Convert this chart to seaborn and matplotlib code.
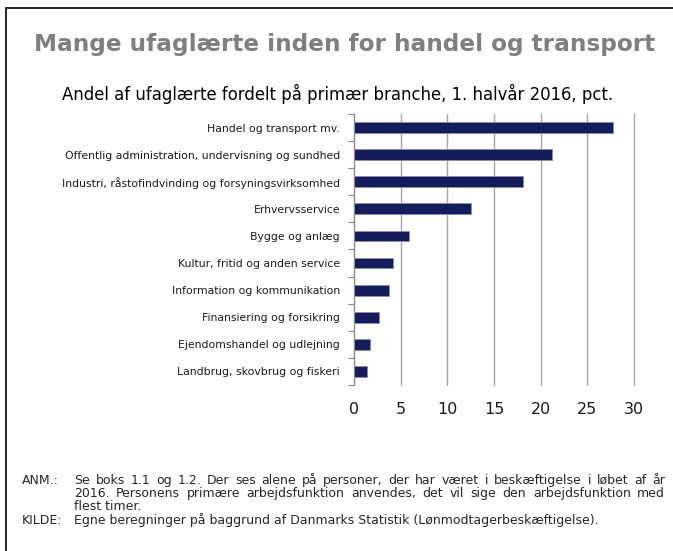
import matplotlib
matplotlib.use('Agg')
import matplotlib.pyplot as plt
from matplotlib.ticker import FixedLocator
import seaborn as sns
import pandas as pd

# ===================== 数据 =====================
categories = [
    'Handel og transport mv.',
    'Offentlig administration, undervisning og sundhed',
    'Industri, råstofindvinding og forsyningsvirksomhed',
    'Erhvervsservice',
    'Bygge og anlæg',
    'Kultur, fritid og anden service',
    'Information og kommunikation',
    'Finansiering og forsikring',
    'Ejendomshandel og udlejning',
    'Landbrug, skovbrug og fiskeri',
]
shares = [27.7, 21.2, 18.1, 12.5, 5.9, 4.2, 3.8, 2.7, 1.75, 1.35]
x_ticks = [0, 5, 10, 15, 20, 25, 30]

title = 'Mange ufaglærte inden for handel og transport'
subtitle = 'Andel af ufaglærte fordelt på primær branche, 1. halvår 2016, pct.'
note_lines = [
    'Se boks 1.1 og 1.2. Der ses alene på personer, der har været i beskæftigelse i løbet af år',
    '2016. Personens primære arbejdsfunktion anvendes, det vil sige den arbejdsfunktion med',
    'flest timer.',
]
source_line = 'Egne beregninger på baggrund af Danmarks Statistik (Lønmodtagerbeskæftigelse).'

df = pd.DataFrame({'branche': categories, 'andel': shares})

sns.set_style('white')
plt.rcParams['font.family'] = ['DejaVu Sans']

W, H = 673, 551
fig = plt.figure(figsize=(W / 100, H / 100), dpi=100)
ax = fig.add_axes([354 / W, 1 - 385 / H, 280 / W, 271 / H])

sns.barplot(data=df, x='andel', y='branche', orient='h', ax=ax,
            color='#141c5c', width=0.4, edgecolor='#8a8fb0', linewidth=0.6,
            saturation=1, zorder=3)

ax.set_xlim(0, 30)
ax.set_ylim(9.5, -0.5)
ax.set_xticks(x_ticks)
ax.set_xticklabels([str(t) for t in x_ticks], fontsize=11.5, color='#1a1a1a')
ax.set_xlabel('')
ax.set_ylabel('')
ax.tick_params(axis='x', length=0, pad=12)
ax.tick_params(axis='y', which='major', length=0, pad=10, labelsize=7.8, labelcolor='#1a1a1a')
ax.yaxis.set_minor_locator(FixedLocator([i - 0.5 for i in range(len(categories) + 1)]))
ax.tick_params(axis='y', which='minor', length=4, width=0.8, color='#8c8c8c', direction='out', left=True)

ax.grid(axis='x', color='#a6a6a6', linewidth=1, zorder=0)
for gl in ax.get_xgridlines():
    gl.set_clip_on(False)
for s in ['top', 'right', 'bottom']:
    ax.spines[s].set_visible(False)
ax.spines['left'].set_color('#8c8c8c')
ax.spines['left'].set_linewidth(0.8)
ax.spines['left'].set_zorder(4)

# ---- 标题 ----
fig.text(345 / W, 1 - 44 / H, title, ha='center', va='center',
         fontsize=16.7, fontweight='bold', color='#7f7f7f')
fig.text(338 / W, 1 - 94 / H, subtitle, ha='center', va='center',
         fontsize=11.9, color='#000000')

# ---- 注释 (前两行两端对齐) ----
fs = 9.0
base = 484
x_left, x_right = 74, 665
renderer = fig.canvas.get_renderer()


def justified_line(text, y_px):
    words = text.split(' ')
    arts = [fig.text(0, 1 - y_px / H, w, ha='left', va='baseline', fontsize=fs) for w in words]
    widths = [a.get_window_extent(renderer).width for a in arts]
    gap = (x_right - x_left - sum(widths)) / (len(words) - 1)
    x = x_left
    for a, w in zip(arts, widths):
        a.set_x(x / W)
        x += w + gap


for i, line in enumerate(note_lines):
    y_px = base + 13 * i
    if i < 2:
        justified_line(line, y_px)
    else:
        fig.text(x_left / W, 1 - y_px / H, line, ha='left', va='baseline', fontsize=fs)
fig.text(22 / W, 1 - base / H, 'ANM.:', ha='left', va='baseline', fontsize=fs)
fig.text(22 / W, 1 - (base + 40) / H, 'KILDE:', ha='left', va='baseline', fontsize=fs)
fig.text(x_left / W, 1 - (base + 40) / H, source_line, ha='left', va='baseline', fontsize=fs)

# ---- 边框 ----
fig.add_artist(plt.Line2D([5.5 / W, 1], [1 - 8 / H, 1 - 8 / H], color='black', linewidth=1.2))
fig.add_artist(plt.Line2D([5.5 / W, 5.5 / W], [0, 1 - 8 / H], color='black', linewidth=1.2))

fig.savefig('out.png', dpi=100)
